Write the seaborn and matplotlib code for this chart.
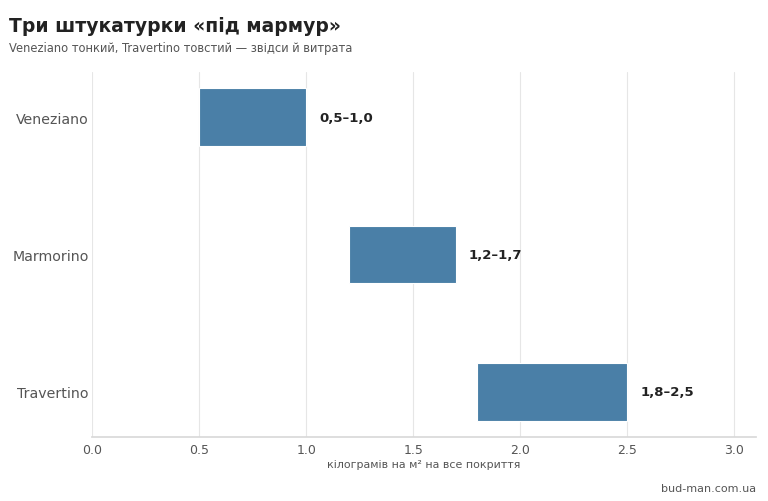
import matplotlib
matplotlib.use("Agg")
import matplotlib.pyplot as plt
import seaborn as sns

# ----------------------------------------------------------------------
# Data: витрата штукатурки, кг/м²
# ----------------------------------------------------------------------
plasters = ["Veneziano", "Marmorino", "Travertino"]
low = [0.5, 1.2, 1.8]
high = [1.0, 1.7, 2.5]
xticks = [0.0, 0.5, 1.0, 1.5, 2.0, 2.5, 3.0]

sns.set_theme(style="whitegrid")
plt.rcParams["font.family"] = ["DejaVu Sans"]

fig, ax = plt.subplots(figsize=(7.68, 5.02), dpi=100)
fig.subplots_adjust(left=0.12, right=0.984, top=0.855, bottom=0.127)

pos = list(range(len(plasters)))
widths = [h - l for l, h in zip(low, high)]
ax.barh(pos, widths, left=low, height=0.42, color="#4a7fa7",
        edgecolor="white", linewidth=0.8, zorder=3)

for p, l, h in zip(pos, low, high):
    label = f"{l:.1f}–{h:.1f}".replace(".", ",")
    ax.text(h + 0.06, p, label, va="center", ha="left",
            fontsize=9.5, fontweight="bold", color="#222222")

ax.set_yticks(pos)
ax.set_yticklabels(plasters, fontsize=10.2, color="#555555")
ax.set_ylim(len(plasters) - 1 + 0.33, -0.33)
ax.set_xlim(0, 3.1)
ax.set_xticks(xticks)
ax.set_xticklabels([f"{t:.1f}" for t in xticks], fontsize=9, color="#555555")
ax.set_xlabel("кілограмів на м² на все покриття", fontsize=7.9,
              color="#555555", labelpad=2)

ax.grid(axis="y", visible=False)
ax.grid(axis="x", color="#e6e6e6", linewidth=0.8)
ax.tick_params(axis="x", length=0, pad=4)
ax.tick_params(axis="y", length=0, pad=2.5)
for side in ["left", "top", "right"]:
    ax.spines[side].set_visible(False)
ax.spines["bottom"].set_color("#d9d9d9")

fig.text(0.012, 0.948, "Три штукатурки «під мармур»", fontsize=13.5,
         fontweight="bold", color="#222222", va="center")
fig.text(0.012, 0.903, "Veneziano тонкий, Travertino товстий — звідси й витрата",
         fontsize=8.3, color="#555555", va="center")
fig.text(0.984, 0.026, "bud-man.com.ua", fontsize=8, color="#555555",
         ha="right", va="center")

fig.savefig("out.png", dpi=100)
